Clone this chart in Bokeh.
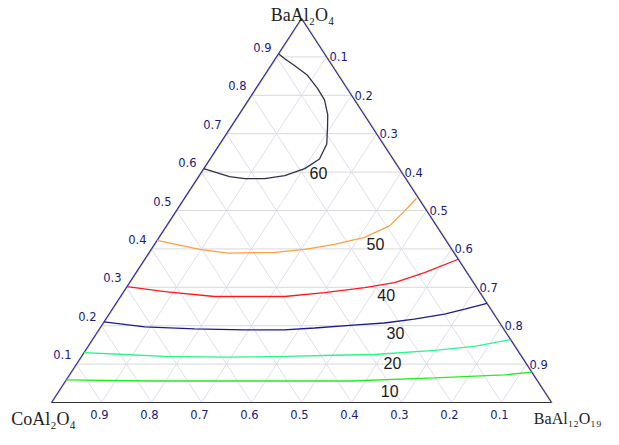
from bokeh.plotting import figure
from bokeh.models import Range1d
from bokeh.core.properties import value
from bokeh.embed import file_html
from bokeh.resources import INLINE

# ---------------- data (ternary fractions) ----------------
ticks = [0.1, 0.2, 0.3, 0.4, 0.5, 0.6, 0.7, 0.8, 0.9]
tick_labels = ["0.1", "0.2", "0.3", "0.4", "0.5", "0.6", "0.7", "0.8", "0.9"]

top_name = "BaAl₂O₄"
left_name = "CoAl₂O₄"
right_name = "BaAl₁₂O₁₉"

levels = [10, 20, 30, 40, 50, 60]
level_labels = ["10", "20", "30", "40", "50", "60"]

# each contour: BaAl2O4 fraction (a) and BaAl12O19 fraction (b)
c10_a = [0.059, 0.056, 0.056, 0.056, 0.064, 0.072, 0.079]
c10_b = [0.000, 0.172, 0.358, 0.568, 0.734, 0.870, 0.921]

c20_a = [0.130, 0.125, 0.120, 0.118, 0.120, 0.123, 0.125, 0.136, 0.146, 0.164]
c20_b = [0.000, 0.083, 0.166, 0.291, 0.406, 0.505, 0.583, 0.698, 0.773, 0.836]

c30_a = [0.210, 0.197, 0.192, 0.189, 0.189, 0.194, 0.202, 0.207, 0.217, 0.230, 0.243, 0.258]
c30_b = [0.000, 0.088, 0.190, 0.291, 0.371, 0.429, 0.509, 0.562, 0.617, 0.671, 0.705, 0.742]

c40_a = [0.302, 0.289, 0.276, 0.276, 0.276, 0.286, 0.299, 0.312, 0.338, 0.373]
c40_b = [0.000, 0.082, 0.188, 0.268, 0.328, 0.403, 0.477, 0.530, 0.577, 0.627]

c50_a = [0.422, 0.399, 0.389, 0.391, 0.399, 0.412, 0.430, 0.460, 0.499, 0.532]
c50_b = [0.000, 0.097, 0.158, 0.251, 0.307, 0.360, 0.411, 0.446, 0.457, 0.464]

c60_a = [0.609, 0.588, 0.583, 0.583, 0.591, 0.609, 0.634, 0.673, 0.716, 0.749,
         0.788, 0.818, 0.852, 0.877, 0.895, 0.908]
c60_b = [0.000, 0.062, 0.095, 0.135, 0.171, 0.202, 0.219, 0.214, 0.194, 0.178,
         0.152, 0.123, 0.086, 0.048, 0.019, 0.000]

# contour label anchor points (a, b)
label_a = [0.031, 0.102, 0.182, 0.279, 0.412, 0.598]
label_b = [0.661, 0.631, 0.597, 0.530, 0.442, 0.235]

# ---------------- styles ----------------
contour_colors = ["#22ee22", "#2cf58a", "#1c1c8c", "#ff1a1a", "#ffa040", "#30304a"]
tick_color = "#1a1a80"
edge_color = "#2525c0"
fringe_color = "#e6e640"


def tx(a, b):
    return b + a / 2.0


def ty(a, b):
    return a


W, H = 603, 429
x0, x1 = -0.102, 1.104
y0, y1 = -0.0703, 1.046875
PX = (x1 - x0) / W  # one pixel in x data units

p = figure(width=W, height=H, output_backend="svg", toolbar_location=None,
           x_range=Range1d(x0, x1), y_range=Range1d(y0, y1),
           min_border=0, min_border_left=0, min_border_right=0,
           min_border_top=0, min_border_bottom=0)
p.axis.visible = False
p.grid.visible = False
p.outline_line_color = None
p.background_fill_color = "white"
p.border_fill_color = "white"

# ---- grid ----
hx, hy, dx, dy = [], [], [], []
for t in ticks:
    # constant BaAl2O4
    hx.append([tx(t, 0), tx(t, 1 - t)]); hy.append([ty(t, 0), ty(t, 1 - t)])
    # constant BaAl12O19
    dx.append([tx(0, t), tx(1 - t, t)]); dy.append([ty(0, t), ty(1 - t, t)])
    # constant CoAl2O4
    dx.append([tx(0, 1 - t), tx(1 - t, 0)]); dy.append([ty(0, 1 - t), ty(1 - t, 0)])
p.multi_line(dx, dy, line_color="#dedef0", line_width=1)
p.multi_line(hx, hy, line_color="#d9d9d9", line_width=1)

# ---- triangle edges ----
lx = [tx(0, 0), tx(1, 0)]; ly = [ty(0, 0), ty(1, 0)]
rx = [tx(1, 0), tx(0, 1)]; ry = [ty(1, 0), ty(0, 1)]
p.line([v + PX for v in lx], ly, line_color=fringe_color, line_width=1)
p.line([v + PX for v in rx], ry, line_color=fringe_color, line_width=1)
p.line(lx, ly, line_color=edge_color, line_width=1.2)
p.line(rx, ry, line_color=edge_color, line_width=1.2)
p.line([tx(0, 0), tx(0, 1)], [0, 0], line_color="#333333", line_width=1.2)

# ---- contours ----
contours = [(c10_a, c10_b), (c20_a, c20_b), (c30_a, c30_b),
            (c40_a, c40_b), (c50_a, c50_b), (c60_a, c60_b)]
for (ca, cb), col in zip(contours, contour_colors):
    p.line([tx(a, b) for a, b in zip(ca, cb)], [ty(a, b) for a, b in zip(ca, cb)],
           line_color=col, line_width=1.3)

p.text([tx(a, b) for a, b in zip(label_a, label_b)],
       [ty(a, b) for a, b in zip(label_a, label_b)], text=level_labels,
       text_font=value("Liberation Sans"), text_font_size="16px",
       text_color="#1a1a1a", text_align="center", text_baseline="middle")

# ---- tick labels ----
tick_font = value("DejaVu Sans")
# left side: BaAl2O4
p.text([tx(t, 0) for t in ticks], [ty(t, 0) for t in ticks], text=tick_labels,
       text_font=tick_font, text_font_size="11.5px", text_color=tick_color,
       text_align="right", text_baseline="middle", x_offset=-5, y_offset=-9.5)
# right side: BaAl12O19
p.text([tx(1 - t, t) for t in ticks], [ty(1 - t, t) for t in ticks], text=tick_labels,
       text_font=tick_font, text_font_size="11.5px", text_color=tick_color,
       text_align="left", text_baseline="middle", x_offset=3, y_offset=0)
# bottom: CoAl2O4
p.text([tx(0, 1 - t) for t in ticks], [ty(0, 1 - t) for t in ticks], text=tick_labels,
       text_font=tick_font, text_font_size="11.5px", text_color=tick_color,
       text_align="center", text_baseline="middle", x_offset=-2, y_offset=12)

# ---- vertex names ----
name_font = value("Liberation Serif")
p.text([tx(1, 0)], [ty(1, 0)], text=[top_name], text_font=name_font,
       text_font_size="18px", text_color="#222222", text_align="center",
       text_baseline="alphabetic", x_offset=1, y_offset=-4)
p.text([tx(0, 0)], [ty(0, 0)], text=[left_name], text_font=name_font,
       text_font_size="18px", text_color="#222222", text_align="center",
       text_baseline="alphabetic", x_offset=-8, y_offset=16)
p.text([tx(0, 1)], [ty(0, 1)], text=[right_name], text_font=name_font,
       text_font_size="16px", text_color="#222222", text_align="right",
       text_baseline="alphabetic", x_offset=50, y_offset=16)

open("out.html", "w").write(file_html(p, INLINE))
